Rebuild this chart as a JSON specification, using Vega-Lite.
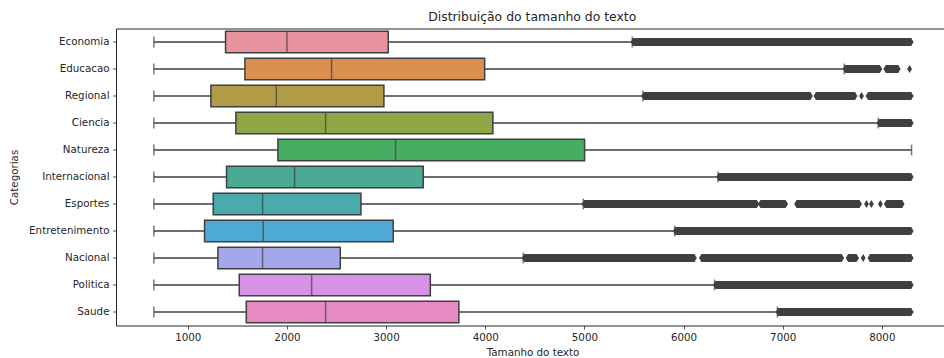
{
  "$schema": "https://vega.github.io/schema/vega-lite/v6.json",
  "autosize": {"type": "none"},
  "padding": {"left": 116, "top": 28.5, "right": 0, "bottom": 32.5},
  "width": 828.5,
  "height": 297,
  "background": "white",
  "config": {
    "font": "DejaVu Sans",
    "view": {"stroke": "#262626", "strokeWidth": 1},
    "axis": {
      "grid": false,
      "domain": false,
      "tickColor": "#262626",
      "tickSize": 3.5,
      "tickWidth": 0.8,
      "labelFont": "DejaVu Sans",
      "labelFontSize": 10.3,
      "labelColor": "#262626",
      "labelPadding": 3.5,
      "titleFont": "DejaVu Sans",
      "titleFontSize": 10.3,
      "titleFontWeight": "normal",
      "titleColor": "#262626"
    }
  },
  "title": {
    "text": "Distribuição do tamanho do texto",
    "font": "DejaVu Sans",
    "fontSize": 12.4,
    "fontWeight": "normal",
    "color": "#262626",
    "anchor": "middle",
    "dx": 2,
    "offset": 5
  },
  "datasets": {
    "resumo": [
      {"categoria": "Economia", "minimo": 658, "q1": 1381, "mediana": 2000, "q3": 3022, "maximo": 5483},
      {"categoria": "Educacao", "minimo": 658, "q1": 1576, "mediana": 2450, "q3": 3994, "maximo": 7621},
      {"categoria": "Regional", "minimo": 658, "q1": 1233, "mediana": 1893, "q3": 2978, "maximo": 5590},
      {"categoria": "Ciencia", "minimo": 658, "q1": 1485, "mediana": 2390, "q3": 4077, "maximo": 7964},
      {"categoria": "Natureza", "minimo": 658, "q1": 1909, "mediana": 3096, "q3": 5002, "maximo": 8300},
      {"categoria": "Internacional", "minimo": 658, "q1": 1391, "mediana": 2077, "q3": 3375, "maximo": 6347},
      {"categoria": "Esportes", "minimo": 658, "q1": 1257, "mediana": 1754, "q3": 2746, "maximo": 4989},
      {"categoria": "Entretenimento", "minimo": 658, "q1": 1169, "mediana": 1761, "q3": 3072, "maximo": 5910},
      {"categoria": "Nacional", "minimo": 658, "q1": 1304, "mediana": 1754, "q3": 2538, "maximo": 4384},
      {"categoria": "Politica", "minimo": 658, "q1": 1519, "mediana": 2249, "q3": 3446, "maximo": 6313},
      {"categoria": "Saude", "minimo": 658, "q1": 1590, "mediana": 2390, "q3": 3734, "maximo": 6946}
    ],
    "faixas_outliers": [
      {"categoria": "Economia", "inicio": 5491, "fim": 8296},
      {"categoria": "Educacao", "inicio": 7630, "fim": 7980},
      {"categoria": "Educacao", "inicio": 8040, "fim": 8165},
      {"categoria": "Regional", "inicio": 5598, "fim": 7280},
      {"categoria": "Regional", "inicio": 7335, "fim": 7730},
      {"categoria": "Regional", "inicio": 7860, "fim": 8296},
      {"categoria": "Ciencia", "inicio": 7972, "fim": 8296},
      {"categoria": "Internacional", "inicio": 6355, "fim": 8296},
      {"categoria": "Esportes", "inicio": 4997, "fim": 6740},
      {"categoria": "Esportes", "inicio": 6775, "fim": 7030},
      {"categoria": "Esportes", "inicio": 7140, "fim": 7775},
      {"categoria": "Esportes", "inicio": 8045, "fim": 8205},
      {"categoria": "Entretenimento", "inicio": 5918, "fim": 8296},
      {"categoria": "Nacional", "inicio": 4392, "fim": 6110},
      {"categoria": "Nacional", "inicio": 6180, "fim": 7595},
      {"categoria": "Nacional", "inicio": 7660, "fim": 7745},
      {"categoria": "Nacional", "inicio": 7880, "fim": 8296},
      {"categoria": "Politica", "inicio": 6321, "fim": 8296},
      {"categoria": "Saude", "inicio": 6954, "fim": 8296}
    ],
    "outliers_isolados": [
      {"categoria": "Educacao", "valor": 8280},
      {"categoria": "Regional", "valor": 7795},
      {"categoria": "Esportes", "valor": 7845},
      {"categoria": "Esportes", "valor": 7895},
      {"categoria": "Esportes", "valor": 7985},
      {"categoria": "Nacional", "valor": 7812}
    ]
  },
  "encoding": {
    "y": {
      "field": "categoria",
      "type": "nominal",
      "title": "Categorias",
      "scale": {
        "domain": ["Economia", "Educacao", "Regional", "Ciencia", "Natureza", "Internacional", "Esportes", "Entretenimento", "Nacional", "Politica", "Saude"],
        "paddingInner": 0,
        "paddingOuter": 0
      },
      "axis": {
        "titleAngle": -90,
        "titleX": -102,
        "titleY": 148.5,
        "titleAlign": "center",
        "titleBaseline": "middle"
      }
    }
  },
  "layer": [
    {
      "data": {"name": "resumo"},
      "mark": {"type": "rule", "color": "#3f3f3f", "strokeWidth": 1.5},
      "encoding": {
        "x": {
          "field": "minimo",
          "type": "quantitative",
          "title": "Tamanho do texto",
          "scale": {"domain": [276, 8632], "nice": false, "zero": false},
          "axis": {
            "values": [1000, 2000, 3000, 4000, 5000, 6000, 7000, 8000],
            "format": "d",
            "titleX": 416.5,
            "titleY": 27,
            "titleAlign": "center",
            "titleBaseline": "middle"
          }
        },
        "x2": {"field": "maximo"}
      }
    },
    {
      "data": {"name": "resumo"},
      "mark": {"type": "tick", "color": "#3f3f3f", "thickness": 1.5, "size": 10.8},
      "encoding": {"x": {"field": "minimo", "type": "quantitative"}}
    },
    {
      "data": {"name": "resumo"},
      "mark": {"type": "tick", "color": "#3f3f3f", "thickness": 1.5, "size": 10.8},
      "encoding": {"x": {"field": "maximo", "type": "quantitative"}}
    },
    {
      "data": {"name": "resumo"},
      "mark": {"type": "bar", "height": {"band": 0.8}, "stroke": "#3f3f3f", "strokeWidth": 1.5, "opacity": 1},
      "encoding": {
        "x": {"field": "q1", "type": "quantitative"},
        "x2": {"field": "q3"},
        "color": {
          "field": "categoria",
          "type": "nominal",
          "legend": null,
          "scale": {
            "domain": ["Economia", "Educacao", "Regional", "Ciencia", "Natureza", "Internacional", "Esportes", "Entretenimento", "Nacional", "Politica", "Saude"],
            "range": ["#e8949f", "#db8f51", "#b19b48", "#8ea646", "#47ad62", "#49ab93", "#4aaaac", "#4eaad4", "#a4a8eb", "#d693e5", "#e88bc4"]
          }
        }
      }
    },
    {
      "data": {"name": "resumo"},
      "mark": {"type": "tick", "color": "#3f3f3f", "thickness": 1.5, "size": 21.6},
      "encoding": {"x": {"field": "mediana", "type": "quantitative"}}
    },
    {
      "data": {"name": "faixas_outliers"},
      "mark": {"type": "rule", "color": "#3f3f3f", "strokeWidth": 8, "strokeCap": "butt"},
      "encoding": {
        "x": {"field": "inicio", "type": "quantitative"},
        "x2": {"field": "fim"}
      }
    },
    {
      "data": {"name": "faixas_outliers"},
      "mark": {"type": "point", "shape": "M0,-1L0.6,0L0,1L-0.6,0Z", "size": 64, "filled": true, "color": "#3f3f3f", "opacity": 1},
      "encoding": {"x": {"field": "inicio", "type": "quantitative"}}
    },
    {
      "data": {"name": "faixas_outliers"},
      "mark": {"type": "point", "shape": "M0,-1L0.6,0L0,1L-0.6,0Z", "size": 64, "filled": true, "color": "#3f3f3f", "opacity": 1},
      "encoding": {"x": {"field": "fim", "type": "quantitative"}}
    },
    {
      "data": {"name": "outliers_isolados"},
      "mark": {"type": "point", "shape": "M0,-1L0.6,0L0,1L-0.6,0Z", "size": 64, "filled": true, "color": "#3f3f3f", "opacity": 1},
      "encoding": {"x": {"field": "valor", "type": "quantitative"}}
    }
  ]
}
